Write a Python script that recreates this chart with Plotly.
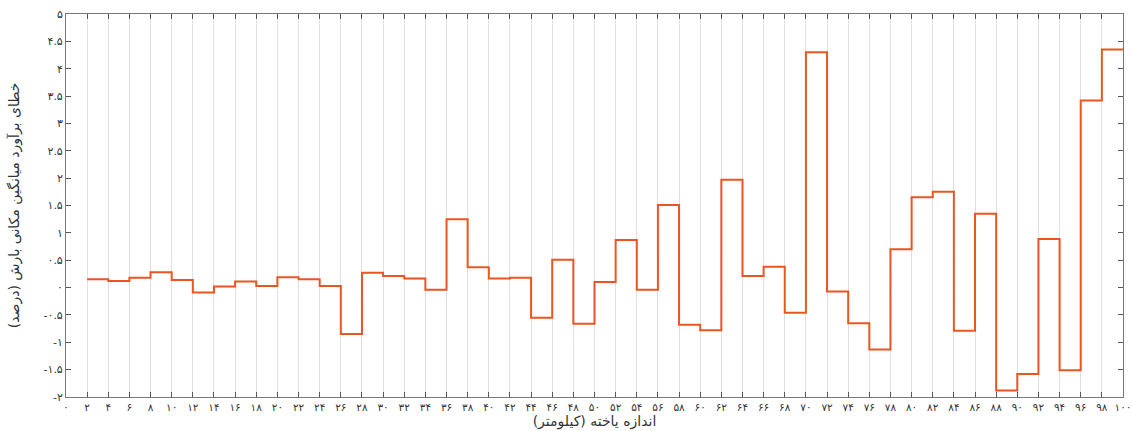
import plotly.graph_objects as go

# Step boundaries (cell size, km) and the error value held over each step
x_edges = list(range(2, 101, 2))
errors = [0.15, 0.12, 0.18, 0.28, 0.14, -0.09, 0.02, 0.11, 0.03, 0.19,
          0.15, 0.03, -0.85, 0.27, 0.21, 0.165, -0.04, 1.25, 0.37, 0.165,
          0.18, -0.55, 0.51, -0.66, 0.10, 0.87, -0.04, 1.51, -0.68, -0.78,
          1.97, 0.21, 0.38, -0.46, 4.30, -0.07, -0.65, -1.13, 0.70, 1.65,
          1.75, -0.79, 1.35, -1.88, -1.58, 0.89, -1.51, 3.42, 4.35]

x_tick_vals = list(range(0, 101, 2))
y_tick_vals = [-2, -1.5, -1, -0.5, 0, 0.5, 1, 1.5, 2, 2.5, 3, 3.5, 4, 4.5, 5]

PERSIAN = str.maketrans("0123456789", "۰۱۲۳۴۵۶۷۸۹")


def fa(v):
    s = ("%g" % v)
    return s.translate(PERSIAN)


x_tick_text = [fa(v) for v in x_tick_vals]
y_tick_text = [fa(v) for v in y_tick_vals]

y_title = "خطای برآورد میانگین مکانی بارش (درصد)"
x_title = "اندازه یاخته (کیلومتر)"

fig = go.Figure()
fig.add_trace(go.Scatter(
    x=x_edges,
    y=errors + [errors[-1]],
    mode="lines",
    line=dict(color="#EA5522", width=2, shape="hv"),
    showlegend=False,
    hoverinfo="skip",
))

font_family = "DejaVu Sans, Noto Sans, sans-serif"

fig.update_layout(
    width=1132, height=431,
    margin=dict(l=66, r=9, t=14, b=34, autoexpand=False),
    paper_bgcolor="white", plot_bgcolor="white",
    font=dict(family=font_family, size=11, color="#333333"),
)
fig.update_xaxes(
    range=[0, 100],
    tickmode="array", tickvals=x_tick_vals, ticktext=x_tick_text,
    ticks="inside", ticklen=5, tickcolor="#555555", tickwidth=1,
    showline=True, linecolor="#777777", linewidth=1, mirror="ticks",
    showgrid=True, gridcolor="#e0e0e0", gridwidth=1,
    zeroline=False, automargin=False, ticklabeloverflow="allow",
    tickfont=dict(size=10.5, color="#333333"),
    title=dict(text=x_title, font=dict(size=14, color="#333333"), standoff=0),
)
fig.update_yaxes(
    range=[-2, 5],
    tickmode="array", tickvals=y_tick_vals, ticktext=y_tick_text,
    ticks="inside", ticklen=5, tickcolor="#555555", tickwidth=1,
    showline=True, linecolor="#777777", linewidth=1, mirror="ticks",
    showgrid=False, zeroline=False, automargin=False,
    tickfont=dict(size=11, color="#333333"),
    title=dict(text=y_title, font=dict(size=14, color="#333333"), standoff=20),
)

fig.write_html("out.html", config={"displayModeBar": False},
               post_script="document.body.style.margin='0';")
